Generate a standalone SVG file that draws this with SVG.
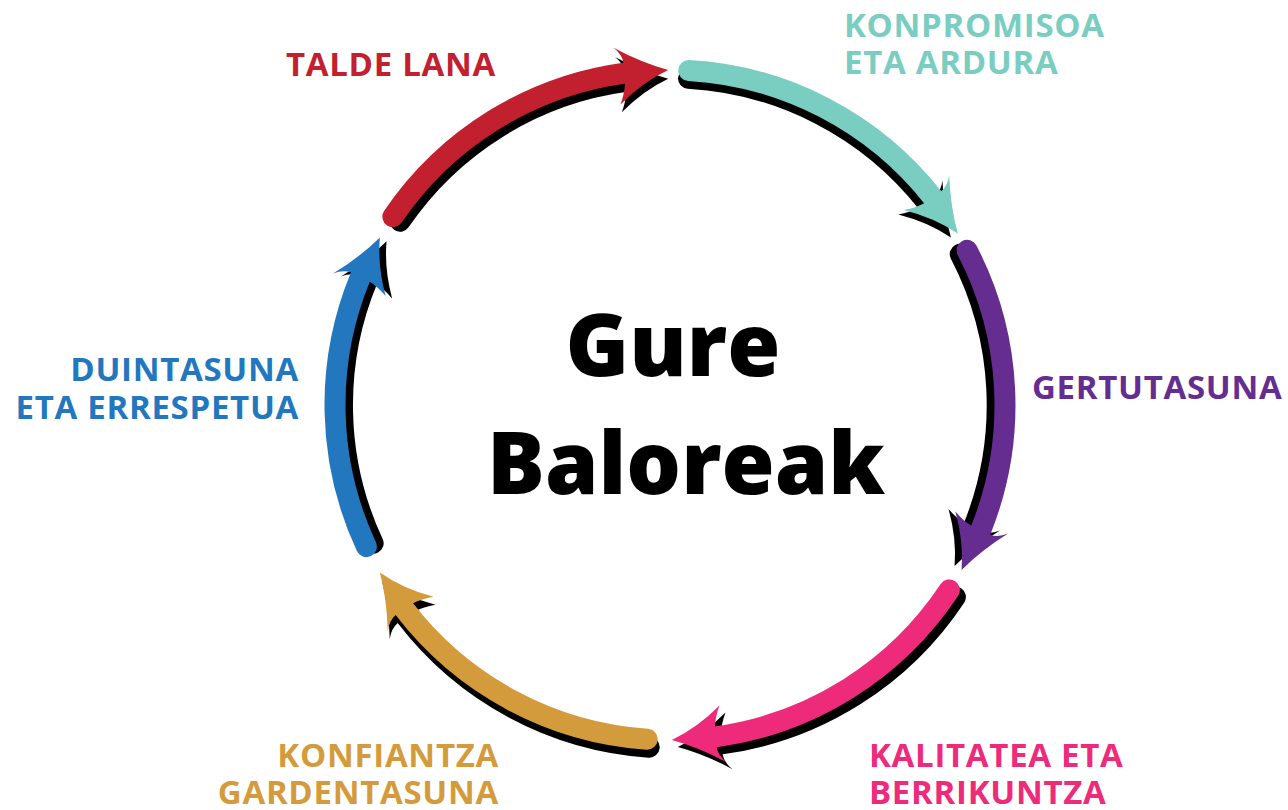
<svg xmlns="http://www.w3.org/2000/svg" xmlns:xlink="http://www.w3.org/1999/xlink" width="1288" height="810" viewBox="0 0 1288 810">
<style>
.shaft{fill:none;stroke:currentColor;stroke-width:21;stroke-linecap:round}
.head{fill:currentColor;stroke:none}
.sh{color:#000}
.lbl{font-family:"Open Sans","Noto Sans","Liberation Sans",sans-serif;font-weight:700;font-size:33px;letter-spacing:0.7px}
.title{font-family:"Open Sans","Noto Sans","Liberation Sans",sans-serif;font-weight:800;font-size:86px;fill:#000;text-anchor:middle}
</style>
<defs>
<path id="head" d="M0,0 Q-26,-9 -53,-26 Q-45,-19 -44,-10 L-44,10 Q-45,20 -50,31 Q-26,10 0,0 Z"/>
<g id="a1"><path class="shaft" d="M392.9,216.7 A335,335 0 0 1 624.5,73.1"/><use xlink:href="#head" class="head" transform="translate(668.2 70) rotate(355.94)"/></g>
<g id="a2"><path class="shaft" d="M688.7,70.5 A335,335 0 0 1 932.9,197.4"/><use xlink:href="#head" class="head" transform="translate(957.8 233.5) rotate(55.44)"/></g>
<g id="a3"><path class="shaft" d="M967.1,250.3 A335,335 0 0 1 980.6,530.5"/><use xlink:href="#head" class="head" transform="translate(961.6 570) rotate(115.74)"/></g>
<g id="a4"><path class="shaft" d="M949.4,589.9 A335,335 0 0 1 715.5,736.9"/><use xlink:href="#head" class="head" transform="translate(671.8 740) rotate(175.94)"/></g>
<g id="a5"><path class="shaft" d="M647.2,739.2 A335,335 0 0 1 404.2,608.9"/><use xlink:href="#head" class="head" transform="translate(379.9 572.5) rotate(236.24)"/></g>
<g id="a6"><path class="shaft" d="M366.4,546.6 A335,335 0 0 1 360.5,276.8"/><use xlink:href="#head" class="head" transform="translate(379.9 237.5) rotate(296.24)"/></g>
</defs>
<rect width="1288" height="810" fill="#fff"/>
<g id="connectors">
<g id="arrow-talde-lana">
<use xlink:href="#a1" class="sh" transform="matrix(.974 0 0 .974 17.42 10.53)"/>
<use xlink:href="#a1" style="color:#C3202F"/>
</g>
<g id="arrow-konpromisoa">
<use xlink:href="#a2" class="sh" transform="matrix(.976 0 0 .976 16.08 9.72)"/>
<use xlink:href="#a2" style="color:#7ACDC1"/>
</g>
<g id="arrow-gertutasuna">
<use xlink:href="#a3" class="sh" transform="matrix(.976 0 0 .976 16.08 9.72)"/>
<use xlink:href="#a3" style="color:#662D91"/>
</g>
<g id="arrow-kalitatea">
<use xlink:href="#a4" class="sh" transform="translate(6 7)"/>
<use xlink:href="#a4" style="color:#EE2A7B"/>
</g>
<g id="arrow-konfiantza">
<use xlink:href="#a5" class="sh" transform="translate(2 8)"/>
<use xlink:href="#a5" style="color:#D49B3C"/>
</g>
<g id="arrow-duintasuna">
<use xlink:href="#a6" class="sh" transform="matrix(.977 0 0 .977 15.41 9.32)"/>
<use xlink:href="#a6" style="color:#2277BF"/>
</g>
</g>
<g id="title">
<text class="title" x="673" y="376">Gure</text>
<text class="title" x="686" y="494">Baloreak</text>
</g>
<g id="node-talde-lana">
<text class="lbl" x="496" y="76" text-anchor="end" fill="#C3202F">TALDE LANA</text>
</g>
<g id="node-konpromisoa">
<text class="lbl" x="844" y="37" fill="#7ACDC1">KONPROMISOA</text>
<text class="lbl" x="844" y="74" fill="#7ACDC1">ETA ARDURA</text>
</g>
<g id="node-gertutasuna">
<text class="lbl" x="1032" y="399" fill="#662D91">GERTUTASUNA</text>
</g>
<g id="node-kalitatea">
<text class="lbl" x="869" y="767" fill="#EE2A7B">KALITATEA ETA</text>
<text class="lbl" x="869" y="804" fill="#EE2A7B">BERRIKUNTZA</text>
</g>
<g id="node-konfiantza">
<text class="lbl" x="499" y="767" text-anchor="end" fill="#D49B3C">KONFIANTZA</text>
<text class="lbl" x="499" y="804" text-anchor="end" fill="#D49B3C">GARDENTASUNA</text>
</g>
<g id="node-duintasuna">
<text class="lbl" x="299" y="381" text-anchor="end" fill="#2277BF">DUINTASUNA</text>
<text class="lbl" x="299" y="419" text-anchor="end" fill="#2277BF">ETA ERRESPETUA</text>
</g>
</svg>
